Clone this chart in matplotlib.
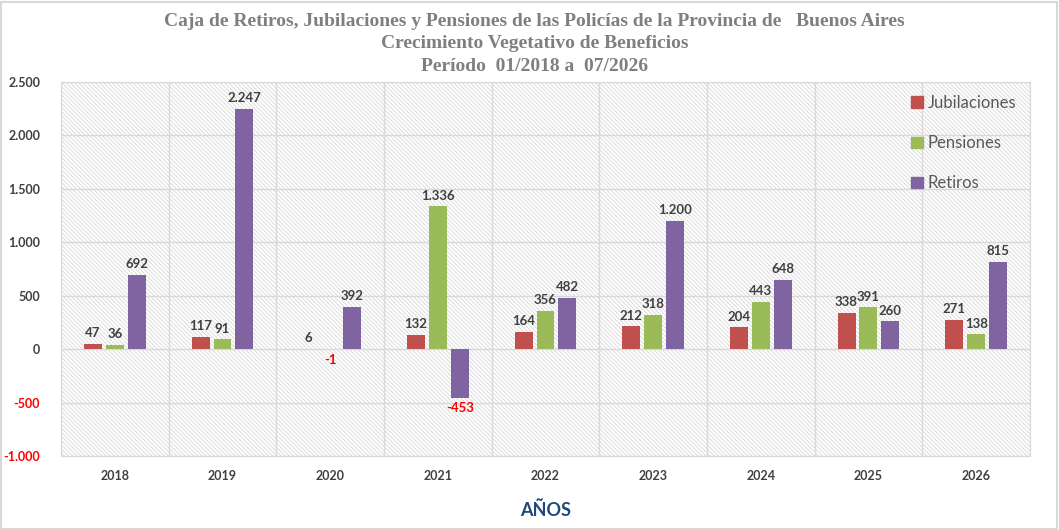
import matplotlib.pyplot as plt
from matplotlib.patches import Rectangle, Patch
import numpy as np

# Datos
anios = ['2018', '2019', '2020', '2021', '2022', '2023', '2024', '2025', '2026']
jubilaciones = [47, 117, 6, 132, 164, 212, 204, 338, 271]
pensiones = [36, 91, -1, 1336, 356, 318, 443, 391, 138]
retiros = [692, 2247, 392, -453, 482, 1200, 648, 260, 815]
series = [('Jubilaciones', jubilaciones, '#C0504D'),
          ('Pensiones', pensiones, '#9BBB59'),
          ('Retiros', retiros, '#8064A2')]

yticks = [-1000, -500, 0, 500, 1000, 1500, 2000, 2500]

def fmt(v):
    return f'{v:,}'.replace(',', '.')

plt.rcParams['font.family'] = ['Lato', 'DejaVu Sans']
plt.rcParams['hatch.linewidth'] = 0.6

fig = plt.figure(figsize=(10.59, 5.30), dpi=100)
fig.patches.append(Rectangle((0.001, 0.002), 0.997, 0.995, transform=fig.transFigure,
                             fill=False, edgecolor='#d9d9d9', lw=1.5))
ax = fig.add_axes([0.0576, 0.1396, 0.915, 0.7057])

# fondo rayado
ax.add_patch(Rectangle((0, 0), 1, 1, transform=ax.transAxes, facecolor='white',
                       edgecolor='#d6d6d6', hatch='\\' * 8, lw=0, zorder=0))

x = np.arange(len(anios))
ancho = 0.167
paso = 0.204
for i, (nombre, vals, color) in enumerate(series):
    pos = x + (i - 1) * paso
    ax.bar(pos, vals, ancho, color=color, zorder=3, label=nombre)
    for px, v in zip(pos, vals):
        if v < 0:
            ax.text(px, v - 45, fmt(v), ha='center', va='top', fontsize=9.5,
                    fontweight='bold', color='#FF0000', zorder=4)
        else:
            ax.text(px, v + 45, fmt(v), ha='center', va='bottom', fontsize=9.5,
                    fontweight='bold', color='#404040', zorder=4)

ax.set_xlim(-0.5, len(anios) - 0.5)
ax.set_ylim(-1000, 2500)
ax.set_yticks(yticks)
ax.set_yticklabels([fmt(v) for v in yticks], fontsize=9, fontweight='bold')
for lbl, v in zip(ax.get_yticklabels(), yticks):
    lbl.set_color('#FF0000' if v < 0 else '#404040')
ax.set_xticks(x)
ax.set_xticklabels(anios, fontsize=9, fontweight='bold', color='#404040')
ax.tick_params(length=0, pad=10)
ax.tick_params(axis='y', pad=15)

ax.set_xticks(np.arange(len(anios) + 1) - 0.5, minor=True)
ax.tick_params(which='minor', length=0)
ax.grid(axis='y', which='major', color='#d9d9d9', lw=1, zorder=1)
ax.grid(axis='x', which='minor', color='#d9d9d9', lw=1, zorder=1)
ax.grid(axis='x', which='major', visible=False)
for s in ax.spines.values():
    s.set_color('#d9d9d9')

ax.set_xlabel('AÑOS', fontsize=13, fontweight='bold', color='#1F497D', labelpad=14)

handles = [Patch(color=c) for _, _, c in series]
ax.legend(handles, [n for n, _, _ in series], loc='upper left', bbox_to_anchor=(0.862, 1.005),
          frameon=False, fontsize=12, labelcolor='#595959', labelspacing=1.45,
          handlelength=0.7, handleheight=0.7, handletextpad=0.3)

titulo = dict(ha='center', va='center', fontsize=14, fontweight='bold', color='#7F7F7F',
              family='Liberation Serif')
fig.text(0.505, 0.960, 'Caja de Retiros, Jubilaciones y Pensiones de las Policías de la Provincia de   Buenos Aires', **titulo)
fig.text(0.505, 0.917, 'Crecimiento Vegetativo de Beneficios', **titulo)
fig.text(0.505, 0.874, 'Período  01/2018 a  07/2026', **titulo)

plt.savefig('out.png', dpi=100)
